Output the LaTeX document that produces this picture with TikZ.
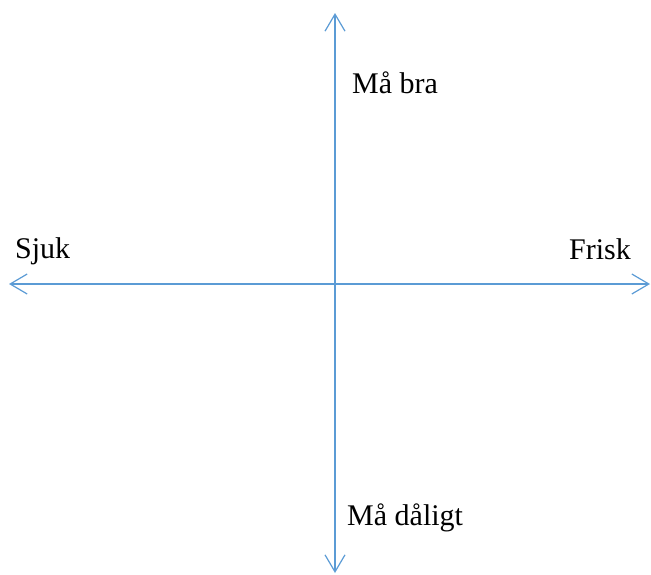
\documentclass[tikz,border=0pt]{standalone}
\usepackage{fontspec}
\setmainfont{Liberation Serif}
\usepackage{xcolor}
\usetikzlibrary{arrows.meta}
\definecolor{axisblue}{HTML}{5B9BD5}

\begin{document}
\begin{tikzpicture}[x=1pt, y=-1pt,
	axis/.style={draw=axisblue, line width=1.2pt, {Straight Barb[length=17pt, width=20pt]}-{Straight Barb[length=17pt, width=20pt]}},
	lbl/.style={inner sep=0pt, font=\fontsize{30}{36}\selectfont}]
				\useasboundingbox (0,0) rectangle (651,574);

				% Axis ends
				\coordinate (top) at (335,13);
				\coordinate (bottom) at (335,573);
				\coordinate (left) at (9,284);
				\coordinate (right) at (650,284);

				% Axes
				\draw[axis] (left) -- (right);
				\draw[axis] (bottom) -- (top);

				% Labels
				\node[lbl, anchor=base west] (good) at (352,93) {Må bra};
				\node[lbl, anchor=base west] (sick) at (15,258) {Sjuk};
				\node[lbl, anchor=base east] (well) at (631,259) {Frisk};
				\node[lbl, anchor=base west] (bad) at (347,525) {Må dåligt};
			\end{tikzpicture}
\end{document}
